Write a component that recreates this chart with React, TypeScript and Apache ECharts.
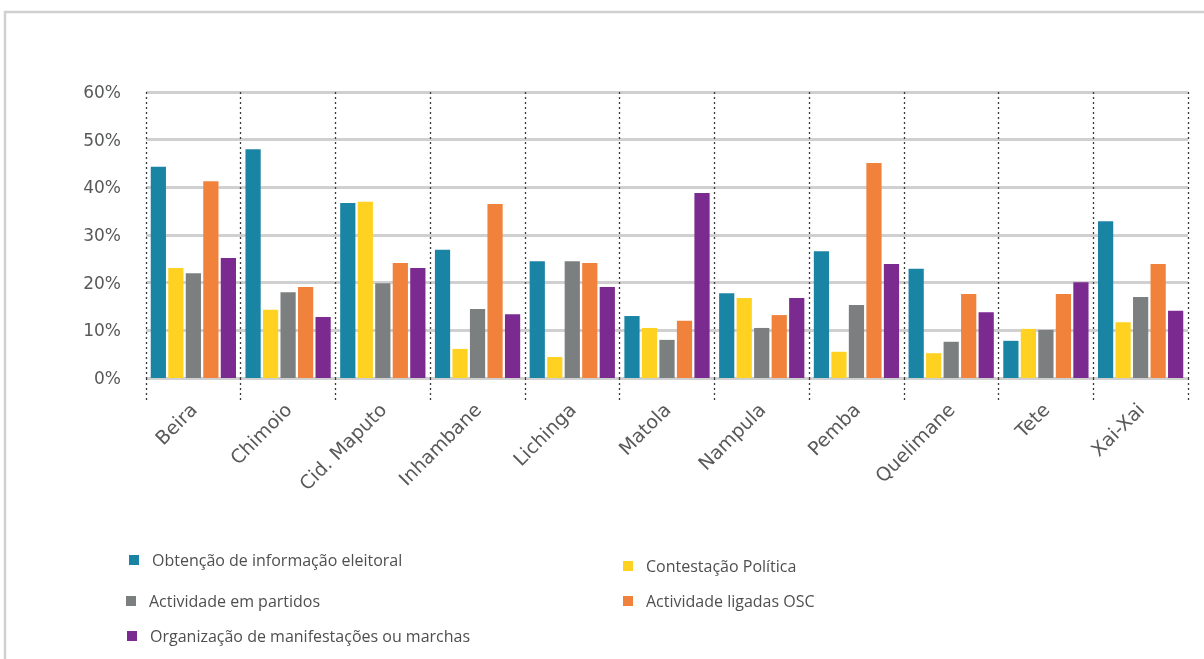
import React, { useEffect, useRef } from "react";
import * as echarts from "echarts";

const categories = ["Beira", "Chimoio", "Cid. Maputo", "Inhambane", "Lichinga", "Matola", "Nampula", "Pemba", "Quelimane", "Tete", "Xai-Xai"];
const seriesNames = [
  "Obtenção de informação eleitoral",
  "Contestação Política",
  "Actividade em partidos",
  "Actividade ligadas OSC",
  "Organização de manifestações ou marchas",
];
const informacao = [44.3, 48.0, 36.7, 26.9, 24.5, 13.0, 17.8, 26.6, 22.9, 7.8, 32.9];
const contestacao = [23.1, 14.3, 37.0, 6.1, 4.4, 10.5, 16.8, 5.5, 5.2, 10.3, 11.7];
const partidos = [22.0, 18.0, 19.9, 14.5, 24.5, 8.0, 10.5, 15.3, 7.6, 10.1, 17.0];
const osc = [41.3, 19.1, 24.1, 36.5, 24.1, 12.0, 13.2, 45.1, 17.6, 17.6, 23.9];
const marchas = [25.2, 12.8, 23.1, 13.4, 19.1, 38.8, 16.8, 23.9, 13.8, 20.1, 14.1];
const colors = ["#1a84a4", "#ffd221", "#7c7f80", "#f1823b", "#7b2a8f"];

export default function App() {
  const ref = useRef<HTMLDivElement>(null);
  useEffect(() => {
    if (!ref.current) return;
    const chart = echarts.init(ref.current, null, { renderer: "svg" });
    const values = [informacao, contestacao, partidos, osc, marchas];
    const dashed = { color: "#3a3a3a", width: 1.3, type: [2, 3] as any };
    const legendPos = [
      { left: 129, top: 550 },
      { left: 623, top: 556 },
      { left: 126, top: 591 },
      { left: 623, top: 591 },
      { left: 127, top: 626 },
    ];
    const notLast = (i: number) => i < categories.length;
    chart.setOption({
      animation: false,
      color: colors,
      graphic: [
        {
          type: "rect",
          shape: { x: 5, y: 12, width: 1300, height: 800 },
          style: { fill: "none", stroke: "#d0d0d0", lineWidth: 2.5 },
          silent: true,
        },
      ],
      legend: seriesNames.map((n, i) => ({
        data: [n],
        left: legendPos[i].left,
        top: legendPos[i].top,
        icon: "rect",
        itemWidth: 10,
        itemHeight: 10,
        padding: 0,
        selectedMode: false,
        textStyle: {
          fontFamily: "Open Sans",
          fontSize: 16,
          color: "#4f4f4f",
          lineHeight: 20,
          padding: [0, 0, 0, 8],
        },
      })),
      grid: { left: 146, right: 16, top: 92, bottom: 281 },
      xAxis: {
        type: "category",
        data: categories,
        axisLine: { show: false },
        axisTick: { show: true, length: 22, interval: notLast, lineStyle: dashed },
        splitLine: { show: true, interval: notLast, lineStyle: dashed },
        axisLabel: {
          rotate: 45,
          interval: 0,
          margin: 28,
          fontFamily: "DejaVu Sans",
          fontSize: 19,
          color: "#58595b",
        },
      },
      yAxis: {
        type: "value",
        min: 0,
        max: 60,
        interval: 10,
        axisLine: { show: false },
        axisTick: { show: false },
        splitLine: { lineStyle: { color: "#d0d0d0", width: 3 } },
        axisLabel: {
          formatter: "{value}%",
          margin: 25,
          fontFamily: "DejaVu Sans",
          fontSize: 17,
          color: "#58595b",
        },
      },
      series: seriesNames.map((n, i) => ({
        name: n,
        type: "bar",
        data: values[i],
        barGap: "15%",
        barCategoryGap: "10%",
        itemStyle: { color: colors[i] },
      })),
    });
    return () => chart.dispose();
  }, []);
  return <div ref={ref} style={{ position: "fixed", left: 0, top: 0, width: 1204, height: 659 }} />;
}
